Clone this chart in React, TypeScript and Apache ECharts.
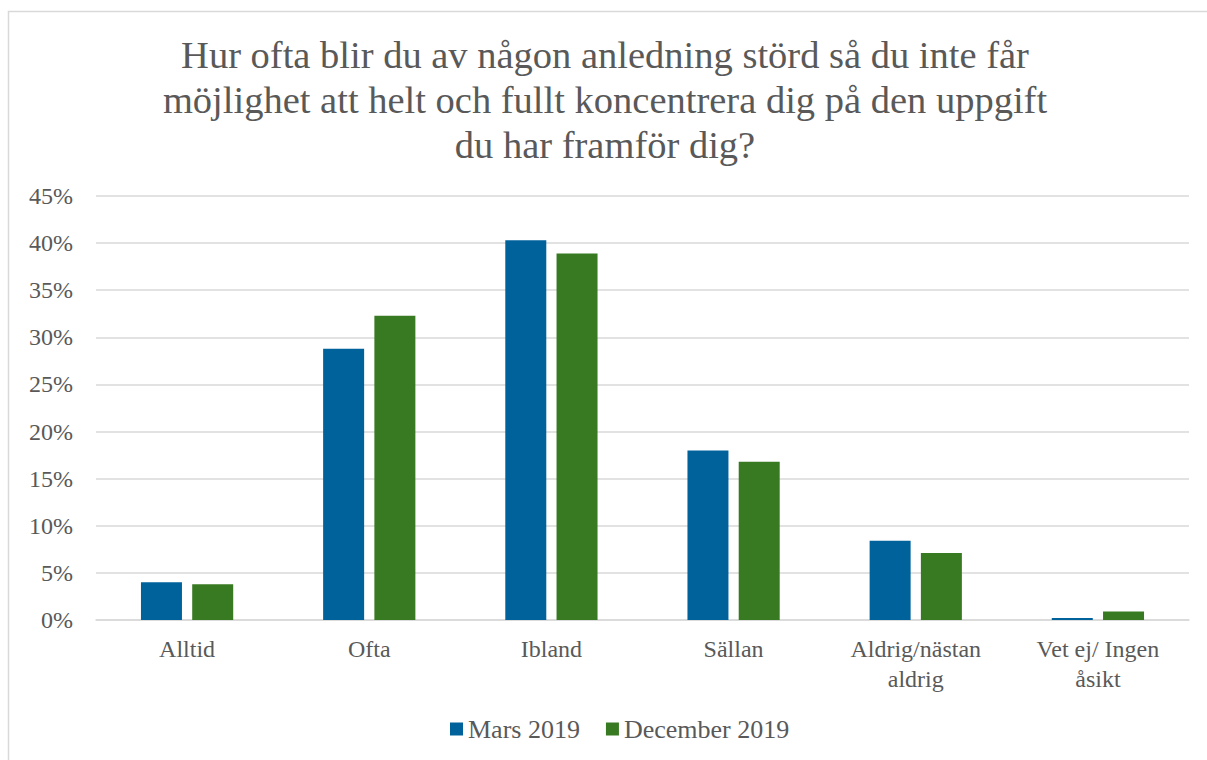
import React, { useEffect, useRef } from "react";
import * as echarts from "echarts";

const titleText =
  "Hur ofta blir du av någon anledning störd så du inte får\nmöjlighet att helt och fullt koncentrera dig på den uppgift\ndu har framför dig?";
const categories = [
  "Alltid",
  "Ofta",
  "Ibland",
  "Sällan",
  "Aldrig/nästan\naldrig",
  "Vet ej/ Ingen\nåsikt",
];
const seriesNames = ["Mars 2019", "December 2019"];
const mars2019 = [4.0, 28.8, 40.3, 18.0, 8.4, 0.2];
const december2019 = [3.8, 32.3, 38.9, 16.8, 7.1, 0.9];
const yMax = 45;
const yInterval = 5;

const FONT = "'Liberation Serif', 'DejaVu Serif', serif";
const TEXT = "#595959";
const GRID = "#d9d9d9";

export default function App() {
  const ref = useRef<HTMLDivElement>(null);
  useEffect(() => {
    document.body.style.margin = "0";
    if (!ref.current) return;
    const chart = echarts.init(ref.current, null, { renderer: "svg" });
    chart.setOption({
      animation: false,
      backgroundColor: "#ffffff",
      textStyle: { fontFamily: FONT },
      graphic: [
        {
          type: "rect",
          shape: { x: 8.5, y: 11.5, width: 1300, height: 900 },
          style: { fill: "none", stroke: GRID, lineWidth: 1.5 },
          silent: true,
          z: -10,
        },
        {
          type: "text",
          x: 605,
          y: 32,
          silent: true,
          style: {
            text: titleText,
            fontFamily: FONT,
            fontSize: 38.5,
            fill: TEXT,
            lineHeight: 45,
            align: "center",
            verticalAlign: "top",
          },
        },
      ],
      legend: {
        data: seriesNames,
        bottom: 13,
        left: 445,
        icon: "rect",
        itemWidth: 13,
        itemHeight: 13,
        itemGap: 26,
        textStyle: { fontFamily: FONT, fontSize: 26, color: TEXT },
      },
      grid: { left: 96, right: 18, top: 196, bottom: 140, containLabel: false },
      xAxis: {
        type: "category",
        data: categories,
        axisLine: { show: true, lineStyle: { color: GRID, width: 1.5 } },
        axisTick: { show: false },
        axisLabel: {
          fontFamily: FONT,
          fontSize: 24,
          color: TEXT,
          margin: 14,
          lineHeight: 30,
          interval: 0,
        },
      },
      yAxis: {
        type: "value",
        min: 0,
        max: yMax,
        interval: yInterval,
        axisLine: { show: false },
        axisTick: { show: false },
        splitLine: { lineStyle: { color: GRID, width: 1.5 } },
        axisLabel: {
          fontFamily: FONT,
          fontSize: 24,
          color: TEXT,
          margin: 23,
          formatter: (v: number) => `${v}%`,
        },
      },
      series: [
        {
          name: seriesNames[0],
          type: "bar",
          data: mars2019,
          barWidth: 41,
          barGap: "25%",
          itemStyle: { color: "#00629b" },
        },
        {
          name: seriesNames[1],
          type: "bar",
          data: december2019,
          barWidth: 41,
          itemStyle: { color: "#387a21" },
        },
      ],
    });
    return () => chart.dispose();
  }, []);
  return <div ref={ref} style={{ width: 1207, height: 760 }} />;
}
